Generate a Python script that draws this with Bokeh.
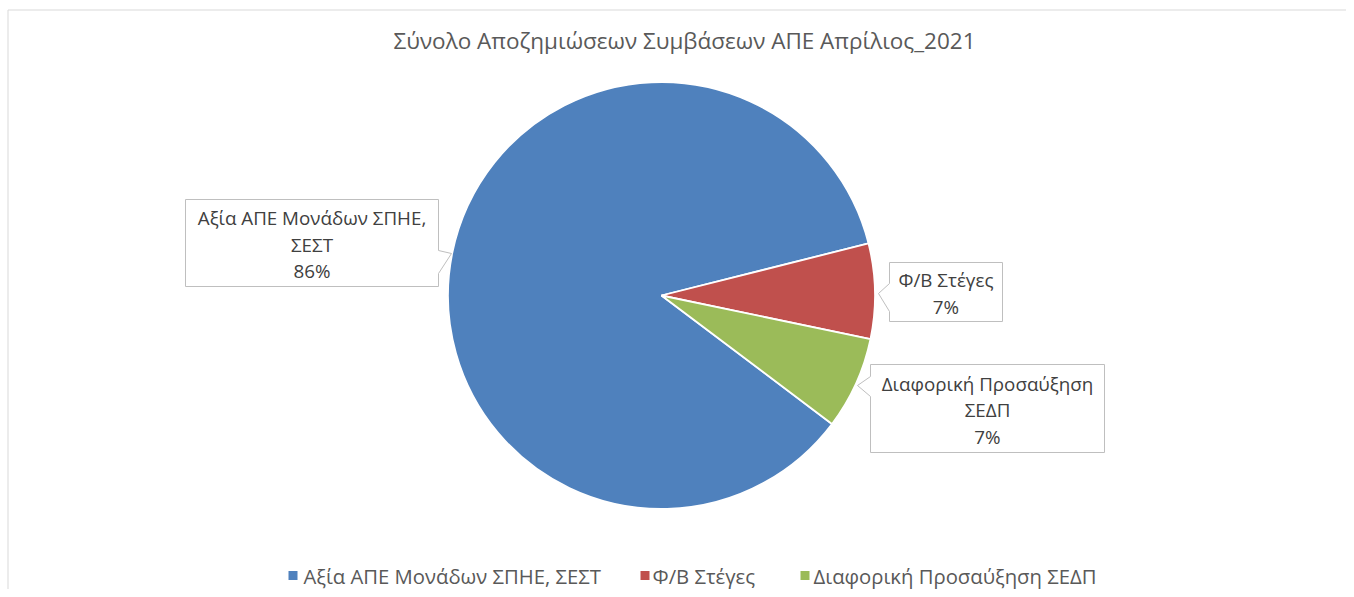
from bokeh.plotting import figure
from bokeh.models import Range1d
from bokeh.core.properties import value
from bokeh.embed import file_html
from bokeh.resources import INLINE
import numpy as np

# ---------------- data ----------------
title_text = "Σύνολο Αποζημιώσεων Συμβάσεων ΑΠΕ Απρίλιος_2021"
categories = ["Αξία ΑΠΕ Μονάδων ΣΠΗΕ, ΣΕΣΤ", "Φ/Β Στέγες", "Διαφορική Προσαύξηση ΣΕΔΠ"]
values = [85.8, 7.2, 7.0]
label_lines = [["Αξία ΑΠΕ Μονάδων ΣΠΗΕ,", "ΣΕΣΤ"], ["Φ/Β Στέγες"], ["Διαφορική Προσαύξηση", "ΣΕΔΠ"]]
colors = ["#4F81BD", "#C0504D", "#9BBB59"]

# ---------------- layout (pixels) ----------------
W, H = 1346, 589
FONT = "Open Sans"
first_slice_angle = 127.0          # degrees clockwise from 12 o'clock
pie_center = (661, 295)
pie_radius = 213.5
# callout boxes: (left, top, right, bottom), pointer side, pointer base y1, y2, tip (x, y)
callouts = [
    dict(box=(185, 199, 438, 286), side="right", base=(250, 273), tip=(451, 253)),
    dict(box=(889, 262, 1002, 321), side="left", base=(283, 311), tip=(878, 293)),
    dict(box=(870, 364, 1104, 452), side="left", base=(376, 396), tip=(857, 385)),
]
legend_sq_x = [292.5, 644.5, 804.5]
legend_txt_x = [303, 652, 813]
legend_y = 575


def X(px):
    return px


def Y(py):
    return H - py


p = figure(width=W, height=H, output_backend="svg", toolbar_location=None,
           x_range=Range1d(0, W), y_range=Range1d(0, H),
           min_border=0, min_border_left=0, min_border_right=0,
           min_border_top=0, min_border_bottom=0)
p.axis.visible = False
p.grid.visible = False
p.outline_line_color = None
p.background_fill_color = "white"
p.border_fill_color = "white"

# chart border (left & top visible, rest outside window)
p.segment(x0=[X(7.5), X(7.5)], y0=[Y(9.5), Y(9.5)], x1=[X(7.5), X(1400)], y1=[Y(700), Y(9.5)],
          line_color="#D9D9D9", line_width=1)

# ---------------- pie ----------------
vals = np.array(values, dtype=float)
cum = np.concatenate([[0], np.cumsum(vals) / vals.sum()])
theta_start = first_slice_angle + 360 * cum[:-1]
theta_end = first_slice_angle + 360 * cum[1:]
start = np.deg2rad(90 - theta_end)
end = np.deg2rad(90 - theta_start)
cx, cy = X(pie_center[0]), Y(pie_center[1])
p.wedge(x=[cx] * len(vals), y=[cy] * len(vals), radius=pie_radius,
        start_angle=list(start), end_angle=list(end), direction="anticlock",
        fill_color=colors, line_color="white", line_width=1.8)

# ---------------- title ----------------
p.text(x=[X(684)], y=[Y(40)], text=[title_text], text_font=value(FONT),
       text_font_size="22.5px", text_color="#595959", text_align="center",
       text_baseline="middle")

# ---------------- callouts ----------------
pct = [f"{round(v / vals.sum() * 100):.0f}%" for v in vals]
for c, lines, pc in zip(callouts, label_lines, pct):
    l, t, r, b = c["box"]
    y1, y2 = c["base"]
    tx, ty = c["tip"]
    if c["side"] == "right":
        pts = [(l, t), (r, t), (r, y1), (tx, ty), (r, y2), (r, b), (l, b)]
    else:
        pts = [(l, t), (r, t), (r, b), (l, b), (l, y2), (tx, ty), (l, y1)]
    p.patch([X(a) for a, _ in pts], [Y(bb) for _, bb in pts],
            fill_color="white", line_color="#BFBFBF", line_width=1)
    all_lines = lines + [pc]
    n = len(all_lines)
    lh = 26.5
    mid = (t + b) / 2 + 1.5
    ys = [mid + (i - (n - 1) / 2) * lh for i in range(n)]
    p.text(x=[X((l + r) / 2)] * n, y=[Y(yy) for yy in ys], text=all_lines,
           text_font=value(FONT), text_font_size="18.8px", text_color="#404040",
           text_align="center", text_baseline="middle")

# ---------------- legend ----------------
p.scatter(x=[X(v) for v in legend_sq_x], y=[Y(legend_y)] * 3, marker="square", size=9,
          fill_color=colors, line_color=None)
p.text(x=[X(v) for v in legend_txt_x], y=[Y(legend_y)] * 3, text=categories,
       text_font=value(FONT), text_font_size="20.3px", text_color="#595959",
       text_align="left", text_baseline="middle")

open("out.html", "w").write(file_html(p, INLINE))
